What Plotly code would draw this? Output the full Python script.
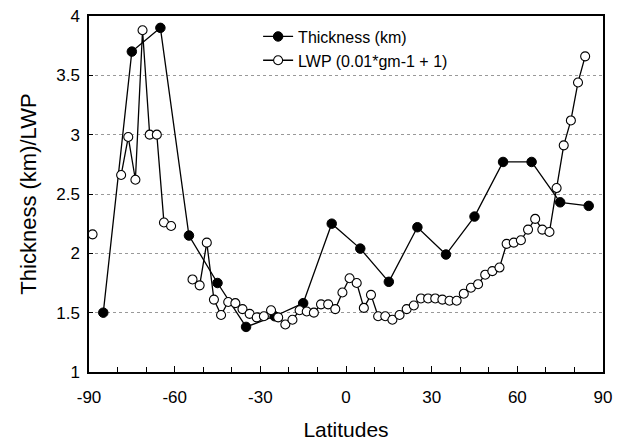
import plotly.graph_objects as go

thick_lat = [-85, -75, -65, -55, -45, -35, -25, -15, -5, 5, 15, 25, 35, 45, 55, 65, 75, 85]
thick_val = [1.50, 3.70, 3.90, 2.15, 1.75, 1.38, 1.47, 1.58, 2.25, 2.04, 1.76, 2.22, 1.99, 2.31, 2.77, 2.77, 2.43, 2.40]

lwp_lat = [-88.75, -86.25, -83.75, -81.25, -78.75, -76.25, -73.75, -71.25, -68.75, -66.25,
           -63.75, -61.25, -58.75, -56.25, -53.75, -51.25, -48.75, -46.25, -43.75, -41.25,
           -38.75, -36.25, -33.75, -31.25, -28.75, -26.25, -23.75, -21.25, -18.75, -16.25,
           -13.75, -11.25, -8.75, -6.25, -3.75, -1.25, 1.25, 3.75, 6.25, 8.75,
           11.25, 13.75, 16.25, 18.75, 21.25, 23.75, 26.25, 28.75, 31.25, 33.75,
           36.25, 38.75, 41.25, 43.75, 46.25, 48.75, 51.25, 53.75, 56.25, 58.75,
           61.25, 63.75, 66.25, 68.75, 71.25, 73.75, 76.25, 78.75, 81.25, 83.75]
lwp_val = [2.16, None, None, None, 2.66, 2.98, 2.62, 3.88, 3.00, 3.00,
           2.26, 2.23, None, None, 1.78, 1.73, 2.09, 1.61, 1.48, 1.59,
           1.58, 1.53, 1.49, 1.46, 1.47, 1.52, 1.46, 1.40, 1.44, 1.52,
           1.51, 1.50, 1.57, 1.57, 1.53, 1.67, 1.79, 1.75, 1.54, 1.65,
           1.47, 1.47, 1.44, 1.48, 1.53, 1.56, 1.62, 1.62, 1.62, 1.61,
           1.60, 1.60, 1.66, 1.71, 1.74, 1.82, 1.85, 1.88, 2.08, 2.09,
           2.11, 2.20, 2.29, 2.20, 2.18, 2.55, 2.91, 3.12, 3.44, 3.66]

x_ticks = [-90, -60, -30, 0, 30, 60, 90]
x_tick_text = ["-90", "-60", "-30", "0", "30", "60", "90"]
y_ticks = [1, 1.5, 2, 2.5, 3, 3.5, 4]
y_tick_text = ["1", "1.5", "2", "2.5", "3", "3.5", "4"]

FONT = "Liberation Sans, Arial, sans-serif"

fig = go.Figure()
fig.add_trace(go.Scatter(
    x=thick_lat, y=thick_val, name="Thickness (km)", mode="lines+markers",
    line=dict(color="black", width=1.3),
    marker=dict(symbol="circle", size=9.5, color="black", line=dict(color="black", width=1)),
))
fig.add_trace(go.Scatter(
    x=lwp_lat, y=lwp_val, name="LWP (0.01*gm-1 + 1)", mode="lines+markers",
    connectgaps=False,
    line=dict(color="black", width=1.3),
    marker=dict(symbol="circle", size=9, color="white", line=dict(color="black", width=1.1)),
))

fig.update_layout(
    width=622, height=442,
    margin=dict(l=89, r=19, t=16, b=70),
    paper_bgcolor="white", plot_bgcolor="white",
    font=dict(family=FONT, color="black", size=17),
    showlegend=True,
    legend=dict(x=0.329, y=0.99, xanchor="left", yanchor="top",
                bgcolor="rgba(0,0,0,0)", font=dict(size=16, family=FONT)),
    xaxis=dict(
        range=[-90, 90], tickvals=x_ticks, ticktext=x_tick_text, ticks="inside", ticklen=6, tickwidth=1,
        tickcolor="black", showgrid=False, zeroline=False,
        showline=True, linecolor="black", linewidth=1.5, mirror=True,
        minor=dict(dtick=10, tick0=0, ticks="inside", ticklen=5, tickcolor="black", showgrid=False),
        title=dict(text="Latitudes", font=dict(size=21, family=FONT), standoff=16),
        tickfont=dict(size=17, family=FONT),
        ticklabelstandoff=9, automargin=False,
    ),
    yaxis=dict(
        range=[1, 4], tickvals=y_ticks, ticktext=y_tick_text, ticks="inside", ticklen=4,
        tickcolor="black", zeroline=False,
        showgrid=True, gridcolor="#999999", griddash="dot", gridwidth=1,
        showline=True, linecolor="black", linewidth=1.5, mirror=True,
        title=dict(text="Thickness (km)/LWP", font=dict(size=22, family=FONT), standoff=14),
        tickfont=dict(size=17, family=FONT),
        ticklabelstandoff=4, automargin=False,
    ),
)

fig.write_html("out.html")
